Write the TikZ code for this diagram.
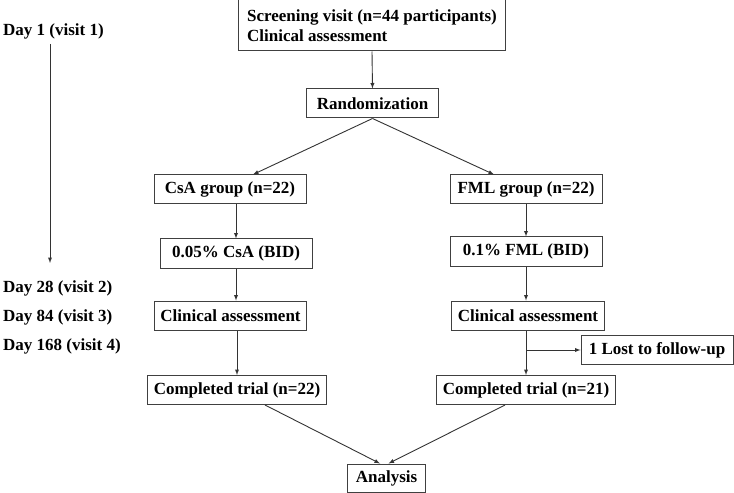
\documentclass[tikz,border=0pt]{standalone}
\usepackage{fontspec}
\setmainfont{Liberation Serif}
\usetikzlibrary{arrows}
\usetikzlibrary{calc,positioning}

\begin{document}
\begin{tikzpicture}[x=1bp,y=-1bp,>=latex,
	box/.style={draw=black!75,line width=1bp,fill=white,minimum height=29bp,inner xsep=6bp,inner ysep=3bp,font=\fontsize{17bp}{20bp}\selectfont\bfseries},
	grp/.style={box,minimum width=152bp},
	day/.style={anchor=west,inner sep=0pt,font=\fontsize{17bp}{20bp}\selectfont\bfseries},
	link/.style={->,black!80,line width=0.9bp}]
\useasboundingbox (0,0) rectangle (734,493);
% flow boxes
\node [box,align=left,inner xsep=9bp,minimum height=51bp] (screen) at (372,25.5) {Screening visit (n=44 participants)\\Clinical assessment};
\node [box,inner xsep=10bp] (rand) at (372.5,103.5) {Randomization};
\node [grp] (csa) at (230,189.5) {CsA group (n=22)};
\node [grp] (fml) at (526,189.5) {FML group (n=22)};
\node [grp] (csadose) at (236,253.5) {0.05\% CsA (BID)};
\node [grp] (fmldose) at (526,251.5) {0.1\% FML (BID)};
\node [grp] (clin1) at (230.5,315.5) {Clinical assessment};
\node [grp] (clin2) at (528,315.5) {Clinical assessment};
\node [grp] (done1) at (237,390) {Completed trial (n=22)};
\node [grp] (done2) at (526,390) {Completed trial (n=21)};
\node [grp] (lost) at (657,350) {1 Lost to follow-up};
\node [box,inner xsep=8bp,minimum height=28bp] (ana) at (386.5,478) {Analysis};
% time line
\node [day] (d1) at (3,31) {Day 1 (visit 1)};
\node [day] (d28) at (3,288) {Day 28 (visit 2)};
\node [day] (d84) at (3,317) {Day 84 (visit 3)};
\node [day] (d168) at (3,346) {Day 168 (visit 4)};
\coordinate (tstart) at (50,44);
\coordinate (tend) at (50,263);
\draw [link] (tstart) -- (tend);
% connectors
\draw [link] (screen.south) -- (rand.north);
\draw [link] (rand.south) -- ($(csa.north)+(23,0)$);
\draw [link] (rand.south) -- ($(fml.north)+(-32,0)$);
\draw [link] (csa.south -| csadose) -- (csadose.north);
\draw [link] (fml.south) -- (fmldose.north);
\draw [link] (csadose.south) -- (csadose.south |- clin1.north);
\draw [link] (fmldose.south) -- (fmldose.south |- clin2.north);
\draw [link] (clin1.south -| done1) -- (done1.north);
\draw [link] (clin2.south -| done2) -- (done2.north);
\coordinate (split) at (done2.north |- lost.west);
\draw [link] (split) -- (lost.west);
\draw [link] ($(done1.south)+(28,0)$) -- ($(ana.north)+(-6.5,0)$);
\draw [link] ($(done2.south)+(-21,0)$) -- ($(ana.north)+(2,0)$);
\end{tikzpicture}
\end{document}
